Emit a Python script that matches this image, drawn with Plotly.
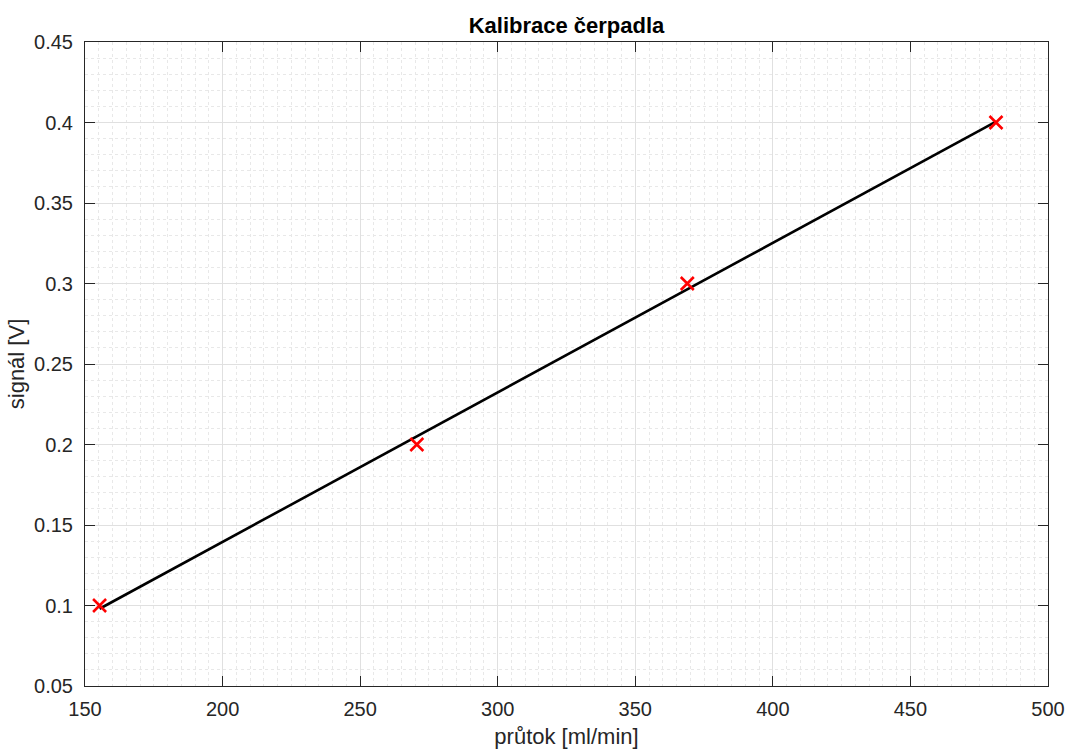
import numpy as np
import plotly.graph_objects as go

# data
flow = [155.3, 270.6, 368.9, 481.1]      # průtok [ml/min]
signal = [0.1, 0.2, 0.3, 0.4]            # signál [V]

x_ticks = [150, 200, 250, 300, 350, 400, 450, 500]
y_ticks = [0.05, 0.1, 0.15, 0.2, 0.25, 0.3, 0.35, 0.4, 0.45]
y_tick_text = ["0.05", "0.1", "0.15", "0.2", "0.25", "0.3", "0.35", "0.4", "0.45"]

# linear calibration fit
coef = np.polyfit(flow, signal, 1)
fit = np.polyval(coef, flow)

font = "Liberation Sans, Arial, sans-serif"
tick_size = 20
label_size = 22

W, H = 1068, 749

fig = go.Figure()
fig.add_trace(go.Scatter(x=flow, y=fit, mode="lines",
                         line=dict(color="black", width=2.6), showlegend=False))
fig.add_trace(go.Scatter(x=flow, y=signal, mode="markers",
                         marker=dict(symbol="x-thin", size=13, color="red",
                                     line=dict(color="red", width=2.6)),
                         showlegend=False))

axis_common = dict(
    showline=True, linecolor="#262626", linewidth=1, mirror="ticks",
    ticks="inside", ticklen=10, tickcolor="#262626", tickwidth=1,
    showgrid=True, gridcolor="#e0e0e0", gridwidth=1,
    zeroline=False, automargin=False, ticklabeloverflow="allow",
    tickfont=dict(family=font, size=tick_size, color="#262626"),
)

fig.update_xaxes(range=[150, 500], tickvals=x_ticks,
                 ticklabelstandoff=5,
                 title=dict(text="průtok [ml/min]", font=dict(family=font, size=label_size, color="#262626"), standoff=10),
                 minor=dict(dtick=5, tick0=150, showgrid=True, gridcolor="#e8e8e8", griddash="dot", gridwidth=1),
                 **axis_common)
fig.update_yaxes(range=[0.05, 0.45], tickvals=y_ticks, ticktext=y_tick_text,
                 ticklabelstandoff=7,
                 title=dict(text="signál [V]", font=dict(family=font, size=label_size, color="#262626"), standoff=3),
                 minor=dict(dtick=0.01, tick0=0.05, showgrid=True, gridcolor="#e8e8e8", griddash="dot", gridwidth=1),
                 **axis_common)

fig.update_layout(
    width=W, height=H,
    margin=dict(l=85, r=20, t=42, b=63, autoexpand=False),
    paper_bgcolor="white", plot_bgcolor="white",
    title=dict(text="<b>Kalibrace čerpadla</b>", x=0.5, xref="paper", xanchor="center",
               y=1 - 25 / H, yanchor="middle", automargin=False,
               font=dict(family=font, size=label_size, color="black")),
)

fig.write_html("out.html", config={"displayModeBar": False},
               post_script="document.body.style.margin='0';document.documentElement.style.overflow='hidden';")
